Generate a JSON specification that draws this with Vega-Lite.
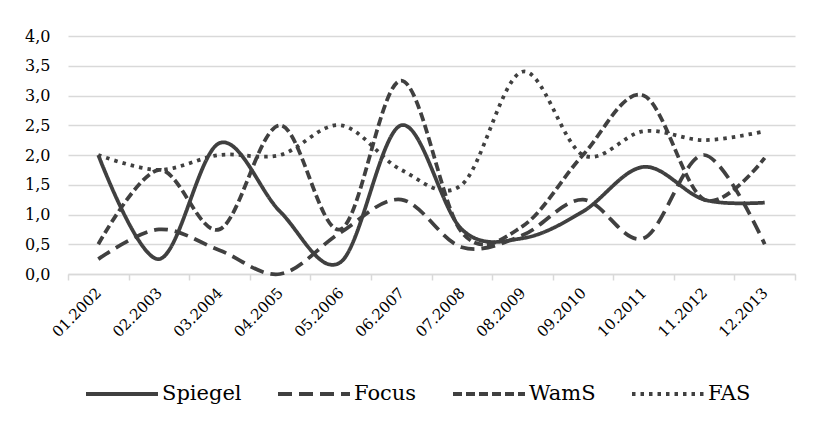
{
  "$schema": "https://vega.github.io/schema/vega-lite/v6.json",
  "width": 727,
  "height": 238,
  "padding": {"left": 24, "top": 28, "right": 5, "bottom": 5},
  "background": "white",
  "config": {
    "view": {"stroke": null},
    "font": "DejaVu Serif",
    "axis": {"labelFont": "DejaVu Serif", "labelColor": "#000000"},
    "legend": {"labelFont": "DejaVu Serif", "labelColor": "#000000"}
  },
  "data": {
    "values": [
      {"period": "01.2002", "series": "Spiegel", "value": 2.0},
      {"period": "02.2003", "series": "Spiegel", "value": 0.25},
      {"period": "03.2004", "series": "Spiegel", "value": 2.2},
      {"period": "04.2005", "series": "Spiegel", "value": 1.05},
      {"period": "05.2006", "series": "Spiegel", "value": 0.2},
      {"period": "06.2007", "series": "Spiegel", "value": 2.5},
      {"period": "07.2008", "series": "Spiegel", "value": 0.75},
      {"period": "08.2009", "series": "Spiegel", "value": 0.6},
      {"period": "09.2010", "series": "Spiegel", "value": 1.05},
      {"period": "10.2011", "series": "Spiegel", "value": 1.8},
      {"period": "11.2012", "series": "Spiegel", "value": 1.25},
      {"period": "12.2013", "series": "Spiegel", "value": 1.2},
      {"period": "01.2002", "series": "Focus", "value": 0.25},
      {"period": "02.2003", "series": "Focus", "value": 0.75},
      {"period": "03.2004", "series": "Focus", "value": 0.4},
      {"period": "04.2005", "series": "Focus", "value": 0.0},
      {"period": "05.2006", "series": "Focus", "value": 0.7},
      {"period": "06.2007", "series": "Focus", "value": 1.25},
      {"period": "07.2008", "series": "Focus", "value": 0.45},
      {"period": "08.2009", "series": "Focus", "value": 0.65},
      {"period": "09.2010", "series": "Focus", "value": 1.25},
      {"period": "10.2011", "series": "Focus", "value": 0.6},
      {"period": "11.2012", "series": "Focus", "value": 2.0},
      {"period": "12.2013", "series": "Focus", "value": 0.5},
      {"period": "01.2002", "series": "WamS", "value": 0.5},
      {"period": "02.2003", "series": "WamS", "value": 1.75},
      {"period": "03.2004", "series": "WamS", "value": 0.75},
      {"period": "04.2005", "series": "WamS", "value": 2.5},
      {"period": "05.2006", "series": "WamS", "value": 0.75},
      {"period": "06.2007", "series": "WamS", "value": 3.25},
      {"period": "07.2008", "series": "WamS", "value": 0.7},
      {"period": "08.2009", "series": "WamS", "value": 0.8},
      {"period": "09.2010", "series": "WamS", "value": 2.0},
      {"period": "10.2011", "series": "WamS", "value": 3.0},
      {"period": "11.2012", "series": "WamS", "value": 1.25},
      {"period": "12.2013", "series": "WamS", "value": 1.95},
      {"period": "01.2002", "series": "FAS", "value": 2.0},
      {"period": "02.2003", "series": "FAS", "value": 1.75},
      {"period": "03.2004", "series": "FAS", "value": 2.0},
      {"period": "04.2005", "series": "FAS", "value": 2.0},
      {"period": "05.2006", "series": "FAS", "value": 2.5},
      {"period": "06.2007", "series": "FAS", "value": 1.75},
      {"period": "07.2008", "series": "FAS", "value": 1.5},
      {"period": "08.2009", "series": "FAS", "value": 3.4},
      {"period": "09.2010", "series": "FAS", "value": 2.0},
      {"period": "10.2011", "series": "FAS", "value": 2.4},
      {"period": "11.2012", "series": "FAS", "value": 2.25},
      {"period": "12.2013", "series": "FAS", "value": 2.4}
    ]
  },
  "mark": {
    "type": "line",
    "interpolate": "cardinal",
    "color": "#404040",
    "strokeWidth": 3.75
  },
  "encoding": {
    "x": {
      "field": "period",
      "type": "nominal",
      "sort": null,
      "scale": {"type": "band", "paddingInner": 0, "paddingOuter": 0},
      "axis": {
        "title": null,
        "labelAngle": -45,
        "labelAlign": "right",
        "labelBaseline": "middle",
        "labelFontSize": 15,
        "labelPadding": 10,
        "tickBand": "extent",
        "tickSize": 6,
        "tickColor": "#d9d9d9",
        "tickWidth": 1.5,
        "domainColor": "#d9d9d9",
        "domainWidth": 1.5,
        "grid": false
      }
    },
    "y": {
      "field": "value",
      "type": "quantitative",
      "scale": {"domain": [0, 4]},
      "axis": {
        "title": null,
        "values": [0, 0.5, 1, 1.5, 2, 2.5, 3, 3.5, 4],
        "labelExpr": "replace(format(datum.value, '.1f'), '.', ',')",
        "labelFontSize": 16,
        "labelPadding": 18,
        "ticks": false,
        "domain": false,
        "grid": true,
        "gridColor": "#d9d9d9",
        "gridWidth": 1.5
      }
    },
    "strokeDash": {
      "field": "series",
      "type": "nominal",
      "scale": {
        "domain": ["Spiegel", "Focus", "WamS", "FAS"],
        "range": [[1, 0], [14, 7], [9, 4], [3.5, 5]]
      },
      "legend": {
        "title": null,
        "orient": "none",
        "legendX": 16,
        "legendY": 320,
        "direction": "horizontal",
        "symbolType": "stroke",
        "symbolSize": 5184,
        "symbolStrokeWidth": 4,
        "symbolStrokeColor": "#404040",
        "labelFontSize": 21,
        "labelOffset": 2,
        "columnPadding": 28
      }
    }
  }
}
